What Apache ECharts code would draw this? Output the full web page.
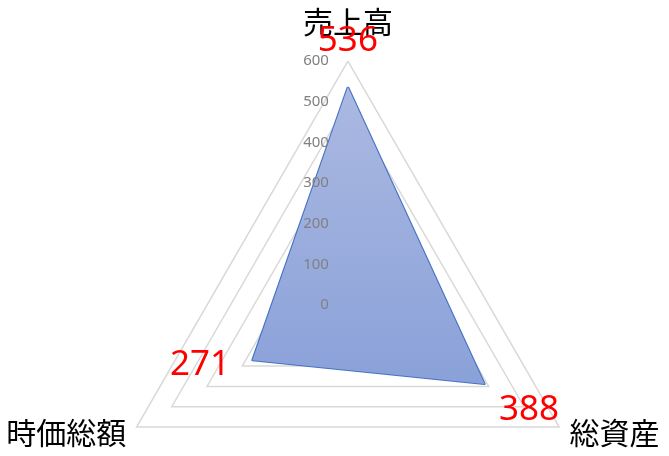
<!DOCTYPE html>
<html>
<head>
<meta charset="utf-8">
<script src="https://cdn.jsdelivr.net/npm/echarts@6/dist/echarts.min.js"></script>
<style>
  html, body { margin: 0; padding: 0; background: #fff; }
  #chart { width: 669px; height: 456px; }
</style>
</head>
<body>
<div id="chart"></div>
<script>
// radar runs counter-clockwise from the top
const indicators = ['売上高', '時価総額', '総資産'];
const values = [536, 271, 388];
const axisMax = 600;

const nameFont = '"Noto Sans CJK JP", sans-serif';
const numFont = '"Noto Sans", "Open Sans", sans-serif';

// one invisible series per data label so each can sit on its own side
function labelSeries(idx, labelOpt) {
  return {
    type: 'radar',
    symbol: 'circle',
    symbolSize: 1,
    z: 5,
    silent: true,
    itemStyle: { color: 'rgba(0,0,0,0)' },
    lineStyle: { width: 0, opacity: 0 },
    label: Object.assign({
      show: true,
      color: '#ff0000',
      fontSize: 35,
      fontFamily: numFont,
      formatter: p => (p.value === values[idx] ? String(values[idx]) : '')
    }, labelOpt),
    data: [{ value: values }]
  };
}

const radarBase = {
  center: ['52%', '66.9%'],
  radius: 244,
  startAngle: 90,
  shape: 'polygon',
  splitNumber: 6,
  axisLine: { show: false },
  axisTick: { show: false },
  splitArea: { show: false }
};

document.addEventListener("DOMContentLoaded", () => {
  echarts.init(document.querySelector("#chart")).setOption({
    animation: false,
    radar: [
      Object.assign({}, radarBase, {
        z: 1,
        nameGap: 12,
        axisName: {
          color: '#000',
          fontSize: 30,
          fontFamily: nameFont,
          lineHeight: 54
        },
        axisLabel: { show: false },
        splitLine: { lineStyle: { color: '#d9d9d9', width: 1.5 } },
        indicator: indicators.map(n => ({ name: n, min: 0, max: axisMax }))
      }),
      // second copy only carries the tick labels, drawn above the area
      Object.assign({}, radarBase, {
        z: 10,
        axisName: { show: false },
        splitLine: { show: false },
        axisLabel: { show: false, color: '#808080', fontSize: 15, fontFamily: numFont },
        indicator: indicators.map((n, i) => ({
          name: n,
          min: 0,
          max: axisMax,
          axisLabel: i === 0 ? { show: true, align: 'right', margin: 19 } : undefined
        }))
      })
    ],
    series: [
      {
        type: 'radar',
        symbol: 'none',
        z: 2,
        lineStyle: { color: '#4472c4', width: 2.25 },
        areaStyle: {
          opacity: 1,
          color: new echarts.graphic.LinearGradient(0, 0, 0, 1, [
            { offset: 0, color: '#abb9e1' },
            { offset: 1, color: '#8aa1d9' }
          ])
        },
        data: [{ value: values }]
      },
      labelSeries(0, { position: 'top', distance: 28 }),
      labelSeries(1, { position: 'left', distance: 22, offset: [0, 5] }),
      labelSeries(2, { position: 'right', distance: 14, offset: [0, 26] })
    ]
  });
});
</script>
</body>
</html>
